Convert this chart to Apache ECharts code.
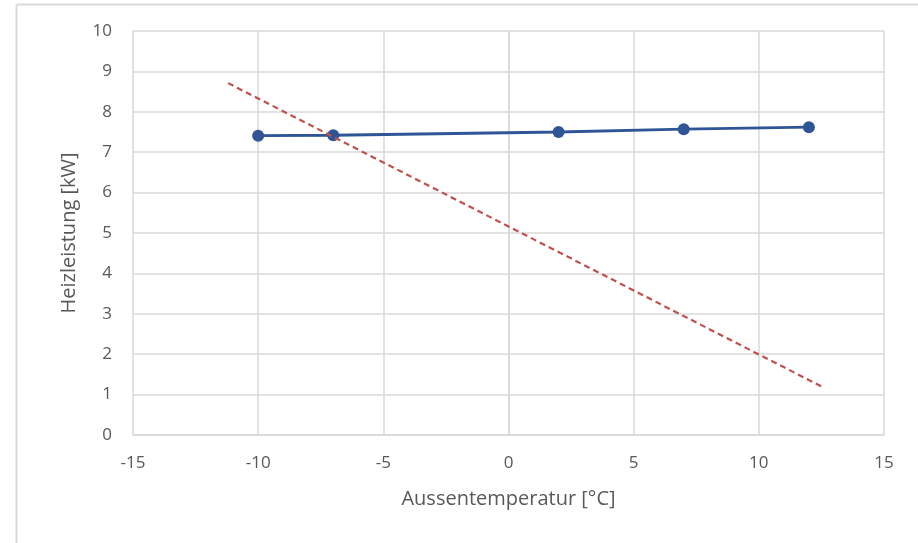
<!DOCTYPE html>
<html><head><meta charset="utf-8">
<script src="https://cdn.jsdelivr.net/npm/echarts@6/dist/echarts.min.js"></script>
<style>html,body{margin:0;padding:0;background:#fff}#c{width:918px;height:543px}</style>
</head><body><div id="c"></div>
<script>
const tempX = [-10, -7, 2, 7, 12];
const heatPower = [7.41, 7.42, 7.5, 7.57, 7.62];
const demandX = [-11.2, 12.57];
const demandY = [8.71, 1.18];
const xAxisTitle = 'Aussentemperatur [°C]';
const yAxisTitle = 'Heizleistung [kW]';

const chart = echarts.init(document.getElementById('c'));
const font = '"Open Sans", "Noto Sans", sans-serif';
chart.setOption({
  animation: false,
  backgroundColor: '#fff',
  graphic: [
    {type: 'line', shape: {x1: 16.5, y1: 4.5, x2: 918, y2: 4.5}, style: {stroke: '#d9d9d9', lineWidth: 2}},
    {type: 'line', shape: {x1: 16.5, y1: 4.5, x2: 16.5, y2: 543}, style: {stroke: '#d9d9d9', lineWidth: 2}}
  ],
  grid: {left: 133, right: 34, top: 31, bottom: 108},
  xAxis: {
    type: 'value', min: -15, max: 15, interval: 5,
    name: xAxisTitle, nameLocation: 'middle', nameGap: 54,
    nameTextStyle: {color: '#595959', fontSize: 20, fontFamily: font},
    axisLine: {show: true, lineStyle: {color: '#d9d9d9', width: 1.5}},
    axisTick: {show: false},
    axisLabel: {color: '#595959', fontSize: 17, fontFamily: font, margin: 20},
    splitLine: {show: true, lineStyle: {color: '#d9d9d9', width: 1.5}}
  },
  yAxis: {
    type: 'value', min: 0, max: 10, interval: 1,
    name: yAxisTitle, nameLocation: 'middle', nameGap: 54,
    nameTextStyle: {color: '#595959', fontSize: 20, fontFamily: font},
    axisLine: {show: true, lineStyle: {color: '#d9d9d9', width: 1.5}},
    axisTick: {show: false},
    axisLabel: {color: '#595959', fontSize: 17, fontFamily: font, margin: 21},
    splitLine: {show: true, lineStyle: {color: '#d9d9d9', width: 1.5}}
  },
  series: [
    {
      type: 'line',
      data: demandX.map((x, i) => [x, demandY[i]]),
      symbol: 'none',
      lineStyle: {color: '#C0504D', width: 2.2, type: [6, 4]},
      z: 3
    },
    {
      type: 'line',
      data: tempX.map((x, i) => [x, heatPower[i]]),
      symbol: 'circle', symbolSize: 12,
      itemStyle: {color: '#2F5597'},
      lineStyle: {color: '#2F5597', width: 2.8},
      z: 2
    }
  ]
});
</script></body></html>
